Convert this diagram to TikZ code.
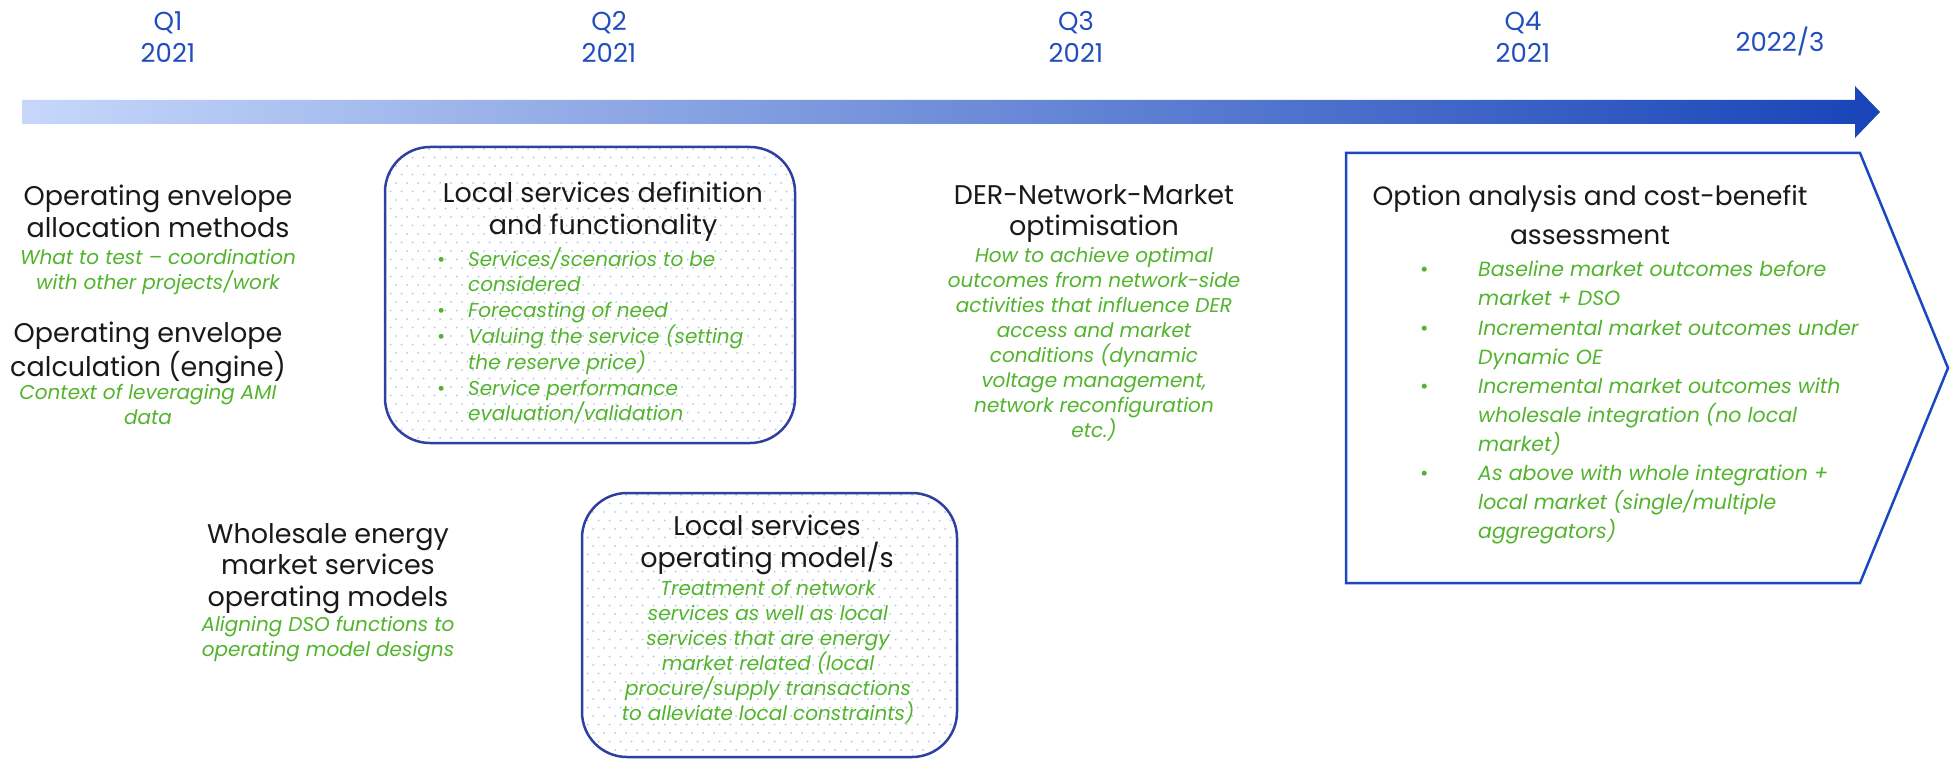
\documentclass[tikz,border=0pt]{standalone}
\usepackage{fontspec}
\setmainfont{Poppins}
\definecolor{qblue}{RGB}{32,78,192}
\definecolor{dgreen}{RGB}{82,180,44}
\definecolor{boxblue}{RGB}{48,64,160}
\definecolor{pentblue}{RGB}{26,72,192}
\definecolor{dotblue}{RGB}{178,196,236}
\definecolor{arrL}{RGB}{198,215,250}
\definecolor{arrR}{RGB}{24,68,184}
\definecolor{ink}{RGB}{25,25,25}
\newcommand{\blt}[1]{\makebox[#1][l]{\upshape\textbullet}}
\tikzset{
  qlabel/.style={text=qblue, font=\fontsize{26}{32}\selectfont, align=center, inner sep=0pt},
  ttl/.style={text=ink, font=\fontsize{27}{31.5}\selectfont, align=center, inner sep=0pt, anchor=north},
  desc/.style={text=dgreen, font=\fontsize{20}{25}\selectfont\itshape, align=center, inner sep=0pt, anchor=north},
  lstA/.style={text=dgreen, font=\fontsize{20}{25.8}\selectfont\itshape, align=left, inner sep=0pt, anchor=north west},
  lstB/.style={text=dgreen, font=\fontsize{20.5}{29.1}\selectfont\itshape, align=left, inner sep=0pt, anchor=north west},
  rbox/.style={draw=boxblue, line width=2.5pt, rounded corners=45pt},
  pent/.style={draw=pentblue, line width=2.5pt, line join=miter},
  dot/.style={fill=dotblue},
}
\begin{document}
\begin{tikzpicture}[x=1pt,y=-1pt]
\useasboundingbox (0,0) rectangle (1950,759);

% time labels
\node[qlabel] (q1) at (168,37) {Q1\\2021};
\node[qlabel] (q2) at (609,37) {Q2\\2021};
\node[qlabel] (q3) at (1076,37) {Q3\\2021};
\node[qlabel] (q4) at (1523,37) {Q4\\2021};
\node[qlabel] (q5) at (1780,41) {2022/3};

% timeline arrow
\shade[left color=arrL, right color=arrR]
  (22,100) -- (1855,100) -- (1855,86) -- (1880,112) -- (1855,138) -- (1855,124) -- (22,124) -- cycle;

% dotted rounded boxes
\begin{scope}
  \clip[rounded corners=45pt] (385,147) rectangle (795,443);
  \foreach \j in {0,...,35} {
    \foreach \i in {0,...,38} {
      \fill[dot] ({385+\i*11+mod(\j,2)*5.5},{149+\j*8.5}) circle (1);
    }
  }
\end{scope}
\draw[rbox] (385,147) rectangle (795,443);

\begin{scope}
  \clip[rounded corners=45pt] (582,493) rectangle (957,757);
  \foreach \j in {0,...,32} {
    \foreach \i in {0,...,35} {
      \fill[dot] ({582+\i*11+mod(\j,2)*5.5},{495+\j*8.5}) circle (1);
    }
  }
\end{scope}
\draw[rbox] (582,493) rectangle (957,757);

% pentagon
\draw[pent] (1346,153) -- (1860,153) -- (1948,368) -- (1860,583) -- (1346,583) -- cycle;

% left column
\node[ttl] (oea) at (158,185) {Operating envelope\\allocation methods};
\node[desc] (oead) at (158,249) {What to test – coordination\\with other projects/work};
\node[ttl] (oec) at (148,322) {Operating envelope\\calculation (engine)};
\node[desc] (oecd) at (148,384) {Context of leveraging AMI\\data};

% box 1
\node[ttl] (lsd) at (603,182) {Local services definition\\and functionality};
\node[lstA] (lsdl) at (437,247) {\blt{31pt}Services/scenarios to be\\
\hspace*{31pt}considered\\
\blt{31pt}Forecasting of need\\
\blt{31pt}Valuing the service (setting\\
\hspace*{31pt}the reserve price)\\
\blt{31pt}Service performance\\
\hspace*{31pt}evaluation/validation};

% box 2
\node[ttl] (lso) at (767,515) {Local services\\operating model/s};
\node[desc] (lsod) at (768,580) {Treatment of network\\services as well as local\\services that are energy\\market related (local\\procure/supply transactions\\to alleviate local constraints)};

% wholesale
\node[ttl] (wem) at (328,523) {Wholesale energy\\market services\\operating models};
\node[desc] (wemd) at (328,616) {Aligning DSO functions to\\operating model designs};

% DER
\node[ttl] (der) at (1094,184) {DER-Network-Market\\optimisation};
\node[desc] (derd) at (1094,247) {How to achieve optimal\\outcomes from network-side\\activities that influence DER\\access and market\\conditions (dynamic\\voltage management,\\network reconfiguration\\etc.)};

% option analysis
\node[ttl, font=\fontsize{26.5}{31.5}\selectfont] (opt) at (1590,185) {Option analysis and cost-benefit\\[8pt]assessment};
\node[lstB] (optl) at (1420,261) {\blt{58pt}Baseline market outcomes before\\
\hspace*{58pt}market + DSO\\
\blt{58pt}Incremental market outcomes under\\
\hspace*{58pt}Dynamic OE\\
\blt{58pt}Incremental market outcomes with\\
\hspace*{58pt}wholesale integration (no local\\
\hspace*{58pt}market)\\
\blt{58pt}As above with whole integration +\\
\hspace*{58pt}local market (single/multiple\\
\hspace*{58pt}aggregators)};
\end{tikzpicture}
\end{document}
